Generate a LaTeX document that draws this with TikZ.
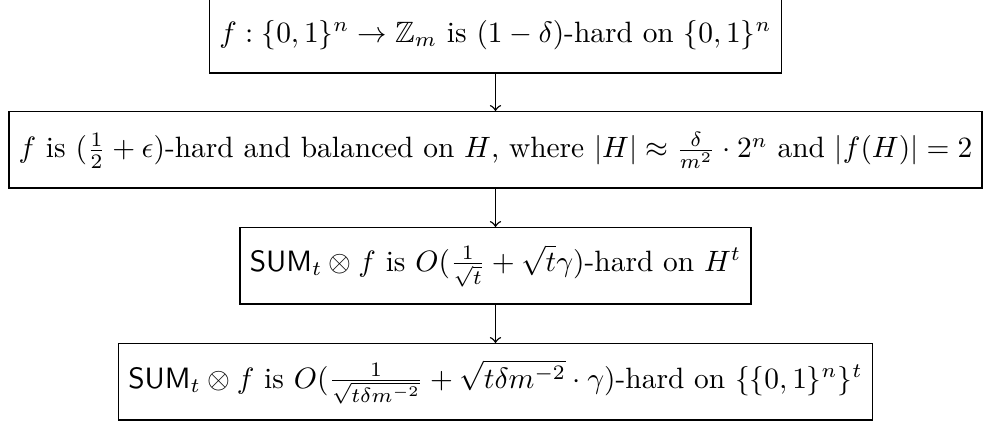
\documentclass[tikz,border=0pt]{standalone}
\usepackage{amsmath,amssymb}
\begin{document}
\begin{tikzpicture}[x=0.34pt,y=-0.34pt,
  box/.style={draw, inner xsep=3.333pt, minimum height=26pt, line width=0.5pt},
  arr/.style={->, line width=0.5pt}]
\useasboundingbox (0,0) rectangle (984,423);
\node[box] (a) at (495.5,35) {$f:\{0,1\}^n\to\mathbb{Z}_m$ is $(1-\delta)$-hard on $\{0,1\}^n$};
\node[box] (b) at (495.5,150) {$f$ is $(\frac{1}{2}+\epsilon)$-hard and balanced on $H$, where $|H|\approx\frac{\delta}{m^2}\cdot 2^n$ and $|f(H)|=2$};
\node[box] (c) at (495.5,266) {$\textsf{SUM}_t\otimes f$ is $O(\frac{1}{\sqrt{t}}+\sqrt{t}\gamma)$-hard on $H^t$};
\node[box] (d) at (495.5,382) {$\textsf{SUM}_t\otimes f$ is $O(\frac{1}{\sqrt{t\delta m^{-2}}}+\sqrt{t\delta m^{-2}}\cdot\gamma)$-hard on $\{\{0,1\}^n\}^t$};
\draw[arr] (a) -- (b);
\draw[arr] (b) -- (c);
\draw[arr] (c) -- (d);
\end{tikzpicture}
\end{document}
